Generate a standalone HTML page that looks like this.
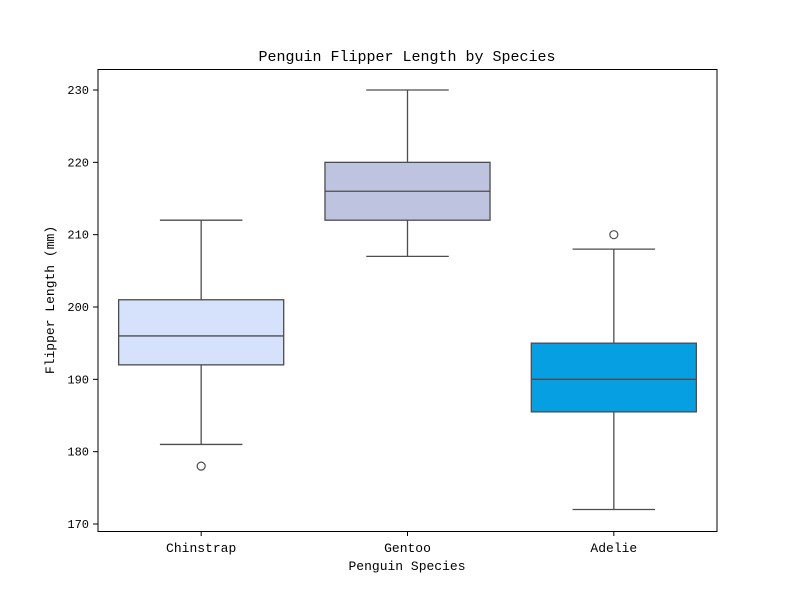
<!DOCTYPE html>
<html><head><meta charset="utf-8"><style>
body{margin:0;background:#fff}
svg text{font-family:"Liberation Mono","DejaVu Sans Mono",monospace;fill:#000}
</style></head><body>
<svg id="chart" width="795" height="597" xmlns="http://www.w3.org/2000/svg">
<rect width="795" height="597" fill="#fff"/>
<g id="marks"></g>
<rect x="98" y="69.5" width="619" height="462" fill="none" stroke="#000" stroke-width="1"/>
<text x="407" y="61" font-size="15" text-anchor="middle">Penguin Flipper Length by Species</text>
<text x="407" y="570" font-size="13" text-anchor="middle">Penguin Species</text>
<text transform="translate(54,300) rotate(-90)" font-size="13" text-anchor="middle">Flipper Length (mm)</text>
<g id="axes"></g>
</svg>
<script>
const categories=["Chinstrap","Gentoo","Adelie"];
const whiskerLow=[181,207,172];
const q1=[192,212,185.5];
const medians=[196,216,190];
const q3=[201,220,195];
const whiskerHigh=[212,230,208];
const outliers=[[178],[],[210]];
const colors=["#d6e2fc","#bec4e0","#06a0e2"];
const yTicks=[170,180,190,200,210,220,230];

const NS="http://www.w3.org/2000/svg";
const left=98,right=717;
const y=v=>90+(230-v)*(434/60);
const step=(right-left)/categories.length;
const x=i=>left+step*(i+0.5);
const bw=step*0.8;
function mk(tag,attrs,parent){const e=document.createElementNS(NS,tag);for(const k in attrs)e.setAttribute(k,attrs[k]);parent.appendChild(e);return e;}
const marks=document.getElementById('marks'),axes=document.getElementById('axes');
const st="#4d4d4d";
categories.forEach((c,i)=>{
  const g=mk('g',{},marks);
  
  
  const cx=x(i);
  mk('line',{x1:cx,x2:cx,y1:y(whiskerLow[i]),y2:y(q1[i]),stroke:st,'stroke-width':1.3},g);
  mk('line',{x1:cx,x2:cx,y1:y(q3[i]),y2:y(whiskerHigh[i]),stroke:st,'stroke-width':1.3},g);
  mk('line',{x1:cx-bw/4,x2:cx+bw/4,y1:y(whiskerLow[i]),y2:y(whiskerLow[i]),stroke:st,'stroke-width':1.3},g);
  mk('line',{x1:cx-bw/4,x2:cx+bw/4,y1:y(whiskerHigh[i]),y2:y(whiskerHigh[i]),stroke:st,'stroke-width':1.3},g);
  mk('rect',{x:cx-bw/2,y:y(q3[i]),width:bw,height:y(q1[i])-y(q3[i]),fill:colors[i],stroke:st,'stroke-width':1.3},g);
  mk('line',{x1:cx-bw/2,x2:cx+bw/2,y1:y(medians[i]),y2:y(medians[i]),stroke:st,'stroke-width':1.3},g);
  outliers[i].forEach(o=>{
    const p=mk('circle',{cx:cx,cy:y(o),r:4,fill:'none',stroke:st,'stroke-width':1.2},g);
    
    
  });
  mk('line',{x1:cx,x2:cx,y1:531,y2:536,stroke:'#000'},axes);
  const t=mk('text',{x:cx,y:552,'font-size':13,'text-anchor':'middle'},axes);
  t.textContent=c;
  
  
});
yTicks.forEach(v=>{
  mk('line',{x1:93,x2:98,y1:y(v),y2:y(v),stroke:'#000'},axes);
  const t=mk('text',{x:89,y:y(v)+4,'font-size':12,'text-anchor':'end'},axes);
  t.textContent=v;
  
  
});
</script>
</body></html>
